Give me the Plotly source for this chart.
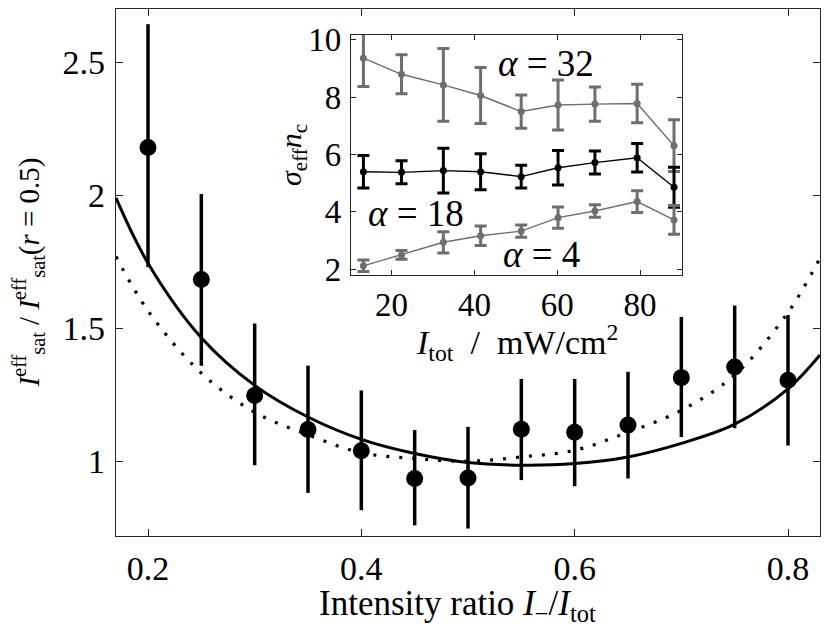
import plotly.graph_objects as go

# ==========================================================
# Data
# ==========================================================

# main panel: normalised saturation intensity vs intensity ratio
ratio = [0.20, 0.25, 0.30, 0.35, 0.40, 0.45, 0.50, 0.55, 0.60, 0.65, 0.70, 0.75, 0.80]
isat = [2.18, 1.684, 1.248, 1.12, 1.04, 0.936, 0.938, 1.121, 1.11, 1.137, 1.315, 1.355, 1.305]
isat_hi = [2.643, 2.005, 1.518, 1.36, 1.267, 1.118, 1.13, 1.31, 1.31, 1.337, 1.543, 1.586, 1.55]
isat_lo = [1.73, 1.36, 0.986, 0.882, 0.817, 0.76, 0.748, 0.93, 0.907, 0.936, 1.092, 1.125, 1.06]

# model curves
curve_x = [0.17, 0.20, 0.25, 0.30, 0.35, 0.40, 0.45, 0.50, 0.55, 0.60, 0.65, 0.70, 0.75, 0.80, 0.83]
curve_solid = [1.99, 1.745, 1.465, 1.286, 1.167, 1.083, 1.03, 0.996, 0.986, 0.992, 1.017, 1.068, 1.14, 1.273, 1.40]
curve_dotted = [1.77, 1.566, 1.332, 1.185, 1.10, 1.033, 1.011, 1.001, 1.017, 1.042, 1.11, 1.192, 1.325, 1.56, 1.765]

# inset: sigma_eff * n_c vs total intensity
itot = [13.2, 22.4, 32.5, 41.5, 51.3, 60.2, 69.1, 79.3, 88.2]
a32 = [9.36, 8.80, 8.43, 8.06, 7.50, 7.73, 7.76, 7.78, 6.31]
a32_err = [0.99, 0.68, 1.27, 0.98, 0.58, 0.87, 0.60, 0.67, 0.90]
a18 = [5.40, 5.38, 5.44, 5.40, 5.23, 5.54, 5.72, 5.89, 4.86]
a18_err = [0.57, 0.40, 0.78, 0.63, 0.40, 0.60, 0.40, 0.50, 0.70]
a4 = [2.12, 2.50, 2.94, 3.17, 3.33, 3.80, 4.03, 4.36, 3.72]
a4_err = [0.20, 0.15, 0.37, 0.34, 0.21, 0.37, 0.22, 0.38, 0.50]

FONT = "Liberation Serif"
AX = "#262626"
GRAY = "#6e6e6e"


# ==========================================================
# Figure
# ==========================================================

fig = go.Figure()

fig.add_trace(
    go.Scatter(
        x=curve_x,
        y=curve_dotted,
        mode="lines",
        line=dict(color="black", width=3.2, dash="3px,10px", shape="spline"),
        showlegend=False
    )
)

fig.add_trace(
    go.Scatter(
        x=curve_x,
        y=curve_solid,
        mode="lines",
        line=dict(color="black", width=3, shape="spline"),
        showlegend=False
    )
)

fig.add_trace(
    go.Scatter(
        x=ratio,
        y=isat,
        mode="markers",
        marker=dict(color="black", size=17),
        error_y=dict(
            type="data",
            symmetric=False,
            array=[h - y for h, y in zip(isat_hi, isat)],
            arrayminus=[y - l for y, l in zip(isat, isat_lo)],
            color="black",
            thickness=3.5,
            width=0
        ),
        showlegend=False
    )
)

for vals, errs, col in [(a32, a32_err, GRAY), (a18, a18_err, "black"), (a4, a4_err, GRAY)]:
    fig.add_trace(
        go.Scatter(
            x=itot,
            y=vals,
            xaxis="x2",
            yaxis="y2",
            mode="lines+markers",
            line=dict(color=col, width=1.4),
            marker=dict(color=col, size=7),
            error_y=dict(type="data", array=errs, color=col, thickness=3, width=6),
            showlegend=False
        )
    )

axis_common = dict(
    showline=True,
    linecolor=AX,
    linewidth=1.3,
    mirror="ticks",
    ticks="inside",
    tickcolor=AX,
    tickwidth=1.2,
    showgrid=False,
    zeroline=False,
    automargin=False,
)

# page body has an 8px margin, so the figure is 8px smaller than the window
fig.update_layout(
    width=822,
    height=619,
    margin=dict(l=108, r=10, t=1, b=91),
    paper_bgcolor="white",
    plot_bgcolor="white",
    xaxis=dict(
        axis_common,
        domain=[0, 1],
        range=[0.17, 0.83],
        tickvals=[0.2, 0.4, 0.6, 0.8],
        ticklen=7,
        ticklabelstandoff=2,
        tickfont=dict(family=FONT, size=34, color="black"),
    ),
    yaxis=dict(
        axis_common,
        domain=[0, 1],
        range=[0.72, 2.70],
        tickvals=[1, 1.5, 2, 2.5],
        ticktext=["1", "1.5", "2", "2.5"],
        ticklen=7,
        ticklabelstandoff=3,
        tickfont=dict(family=FONT, size=34, color="black"),
    ),
    xaxis2=dict(
        axis_common,
        anchor="y2",
        domain=[0.3338, 0.8044],
        range=[10.2, 90.2],
        tickvals=[20, 40, 60, 80],
        ticklen=5,
        ticklabelstandoff=0,
        tickfont=dict(family=FONT, size=33, color="black"),
    ),
    yaxis2=dict(
        axis_common,
        anchor="x2",
        domain=[0.4953, 0.9512],
        range=[1.8, 10.18],
        tickvals=[2, 4, 6, 8, 10],
        ticklen=5,
        ticklabelstandoff=2,
        tickfont=dict(family=FONT, size=33, color="black"),
    ),
)

# axis titles, placed by hand like the MATLAB original
titles = [
    ("Intensity ratio <i>I</i><sub>−</sub>/<i>I</i><sub>tot</sub>", 0.485, -0.131, 0, 35),
    ("<i>I</i><sup>eff</sup><sub>sat</sub> / <i>I</i><sup>eff</sup><sub>sat</sub>(<i>r</i> = 0.5)", -0.125, 0.5, -90, 29),
    ("<i>I</i><sub>tot</sub>  /  mW/cm<sup>2</sup>", 0.5696, 0.368, 0, 34),
    ("<i>σ</i><sub>eff</sub><i>n</i><sub>c</sub>", 0.2514, 0.723, -90, 30),
]
for txt, tx, ty, ang, sz in titles:
    fig.add_annotation(
        x=tx, y=ty, xref="paper", yref="paper",
        text=txt, showarrow=False, textangle=ang,
        xanchor="center", yanchor="middle",
        font=dict(family=FONT, size=sz, color="black")
    )

labels = [("<i>α</i> = 32", 57.4, 9.19), ("<i>α</i> = 18", 25.8, 3.95), ("<i>α</i> = 4", 56.2, 2.50)]
for txt, lx, ly in labels:
    fig.add_annotation(
        x=lx, y=ly, xref="x2", yref="y2",
        text=txt, showarrow=False,
        font=dict(family=FONT, size=37, color="black")
    )

fig.write_html("out.html")
